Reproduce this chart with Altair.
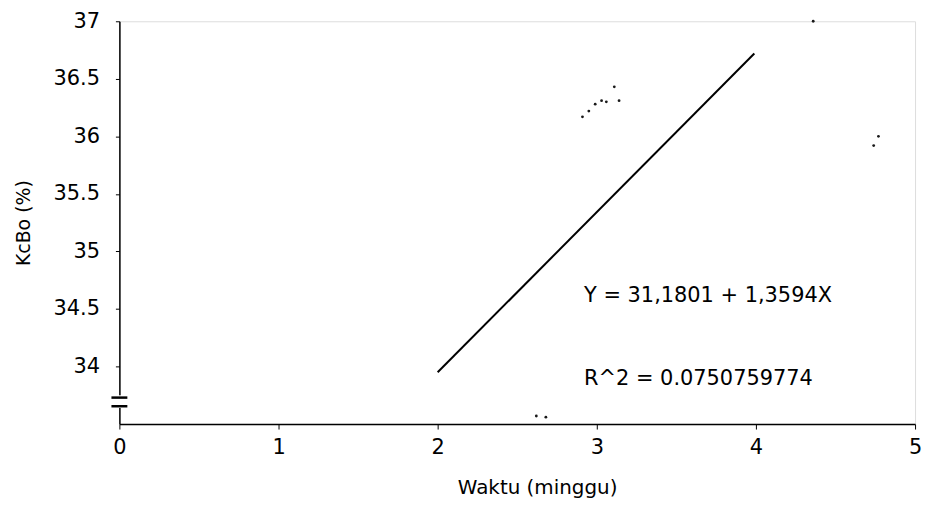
import altair as alt
import pandas as pd

# Regression line endpoints
line_x = [2.0, 3.99]
line_y = [33.95, 36.72]

# Scattered specks visible on the scan
speck_x = [2.91, 2.95, 2.99, 3.03, 3.06, 3.11, 3.14, 4.36, 4.74, 4.77, 2.62, 2.68]
speck_y = [36.17, 36.22, 36.28, 36.31, 36.30, 36.43, 36.31, 37.0, 35.92, 36.0, 33.57, 33.56]

y_ticks = [34, 34.5, 35, 35.5, 36, 36.5, 37]
x_ticks = [0, 1, 2, 3, 4, 5]

eq_text = ["Y = 31,1801 + 1,3594X", "R^2 = 0.0750759774"]
eq_x = [2.92, 2.92]
eq_y = [34.615, 33.89]

FONT = "DejaVu Sans"

xs = alt.Scale(domain=[0, 5], nice=False)
ys = alt.Scale(domain=[33.5, 37], nice=False, zero=False)

line_df = pd.DataFrame({"x": line_x, "y": line_y})
speck_df = pd.DataFrame({"x": speck_x, "y": speck_y})
eq_df = pd.DataFrame({"x": eq_x, "y": eq_y, "t": eq_text})

base_x = alt.X("x:Q", scale=xs, title="Waktu (minggu)",
               axis=alt.Axis(values=x_ticks, format="d", grid=False, domainColor="black",
                             domainWidth=1.5, tickColor="black", tickSize=5, labelColor="black",
                             labelFont=FONT, labelFontSize=21, labelPadding=8, labelFlush=False,
                             titleFont=FONT, titleFontSize=20, titleFontWeight="normal",
                             titleColor="black", titlePadding=20, titleX=420))
base_y = alt.Y("y:Q", scale=ys, title="KcBo (%)",
               axis=alt.Axis(values=y_ticks, format=".1~f", grid=False, domainColor="black",
                             domainWidth=1.5, tickColor="black", tickSize=4, labelColor="black",
                             labelFont=FONT, labelFontSize=21, labelPadding=16, labelFlush=False,
                             titleFont=FONT, titleFontSize=19, titleFontWeight="normal",
                             titleColor="black", titlePadding=20))

reg = alt.Chart(line_df).mark_line(color="black", strokeWidth=2).encode(x=base_x, y=base_y)

specks = alt.Chart(speck_df).mark_point(filled=True, color="black", size=8, opacity=0.9).encode(
    x=alt.X("x:Q", scale=xs), y=alt.Y("y:Q", scale=ys))

eq = alt.Chart(eq_df).mark_text(align="left", baseline="middle", font=FONT, fontSize=21,
                                color="black").encode(
    x=alt.X("x:Q", scale=xs), y=alt.Y("y:Q", scale=ys), text="t:N")

# axis break marks on the y-axis
brk_df = pd.DataFrame({"y": [33.73, 33.655]})
gap = alt.Chart(pd.DataFrame({"y": [33.75], "y2": [33.64]})).mark_rect(color="white").encode(
    x=alt.value(-2), x2=alt.value(3), y=alt.Y("y:Q", scale=ys), y2="y2:Q")
brk = alt.Chart(brk_df).mark_rule(color="black", strokeWidth=2.5).encode(
    x=alt.value(-8), x2=alt.value(8), y=alt.Y("y:Q", scale=ys))

chart = alt.layer(reg, specks, eq, gap, brk).properties(
    width=800, height=405,
    autosize=alt.AutoSizeParams(type="none"),
    padding={"left": 112, "top": 12, "right": 10, "bottom": 76},
).configure_view(stroke=None).configure(background="white")

chart.save("out.html", embed_options={"renderer": "svg", "actions": False})
